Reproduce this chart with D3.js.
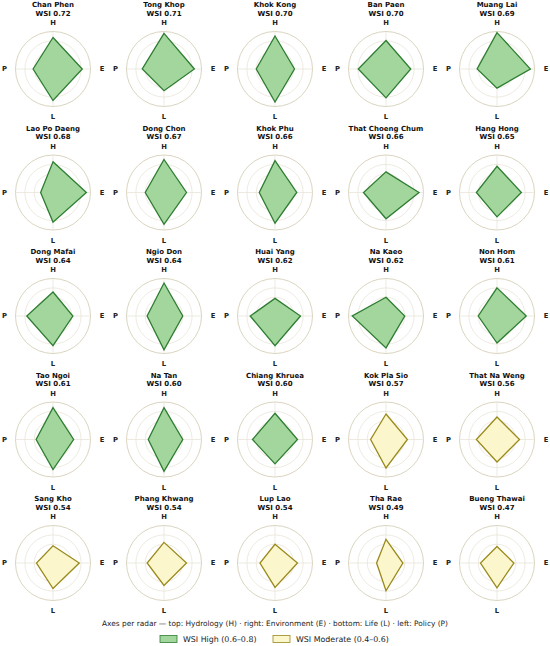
<!DOCTYPE html>
<html lang="en">
<head>
  <meta charset="UTF-8">
  <title>WSI radars</title>
  <script src="https://d3js.org/d3.v7.min.js"></script>
  <style>
    body { margin: 0; background: #fff; font-family: "DejaVu Sans", sans-serif; }
  </style>
</head>
<body>
  <div id="chart"></div>
  <script>
    // Sites in order, with their WSI score
    const sites = ["Chan Phen", "Tong Khop", "Khok Kong", "Ban Paen", "Muang Lai",
      "Lao Po Daeng", "Dong Chon", "Khok Phu", "That Choeng Chum", "Hang Hong",
      "Dong Mafai", "Ngio Don", "Huai Yang", "Na Kaeo", "Non Hom",
      "Tao Ngoi", "Na Tan", "Chiang Khruea", "Kok Pla Sio", "That Na Weng",
      "Sang Kho", "Phang Khwang", "Lup Lao", "Tha Rae", "Bueng Thawai"];
    const wsi = [0.72, 0.71, 0.70, 0.70, 0.69, 0.68, 0.67, 0.66, 0.66, 0.65,
      0.64, 0.64, 0.62, 0.62, 0.61, 0.61, 0.60, 0.60, 0.57, 0.56,
      0.54, 0.54, 0.54, 0.49, 0.47];

    // Dimension scores (0-1)
    const hydrology =   [0.84, 0.95, 0.88, 0.76, 0.97, 0.82, 0.88, 0.85, 0.55, 0.70,
      0.64, 0.88, 0.47, 0.50, 0.75, 0.85, 0.85, 0.70, 0.68, 0.60, 0.46, 0.55, 0.50, 0.63, 0.44];
    const environment = [0.78, 0.81, 0.52, 0.66, 0.89, 0.89, 0.60, 0.58, 0.88, 0.65,
      0.53, 0.50, 0.68, 0.50, 0.78, 0.55, 0.50, 0.60, 0.57, 0.60, 0.70, 0.60, 0.60, 0.45, 0.45];
    const life =        [0.84, 0.58, 0.88, 0.77, 0.51, 0.79, 0.85, 0.82, 0.70, 0.65,
      0.79, 0.90, 0.79, 0.85, 0.72, 0.80, 0.85, 0.65, 0.76, 0.60, 0.68, 0.60, 0.65, 0.74, 0.66];
    const policy =      [0.53, 0.58, 0.50, 0.74, 0.53, 0.33, 0.50, 0.42, 0.60, 0.55,
      0.70, 0.45, 0.66, 0.90, 0.50, 0.45, 0.42, 0.60, 0.41, 0.55, 0.44, 0.45, 0.40, 0.25, 0.44];

    const axisLabels = ["H", "E", "L", "P"];
    const classes = ["WSI High (0.6–0.8)", "WSI Moderate (0.4–0.6)"];

    const width = 550, height = 646;
    const svg = d3.select("#chart").append("svg")
        .attr("width", width)
        .attr("height", height);

    const col = d3.scalePoint().domain(d3.range(5)).range([53, 497]);
    const row = d3.scalePoint().domain(d3.range(5)).range([69, 563]);
    const r = d3.scaleLinear().domain([0, 1]).range([0, 37.5]);
    const angle = d3.scalePoint().domain(axisLabels).range([0, 2 * Math.PI * 3 / 4]);

    const style = {
      high: { fill: "#a3d69c", stroke: "#2e7d32" },
      mod: { fill: "#fbf6cc", stroke: "#9a8a1c" }
    };

    const radar = d3.lineRadial()
        .angle(d => angle(d.k))
        .radius(d => r(d.v))
        .curve(d3.curveLinearClosed);

    // label offsets for H, E, L, P
    const labelPos = { H: [0, -46], E: [49, 0], L: [0, 48], P: [-48.5, 0] };

    sites.forEach((name, i) => {
      const cx = col(i % 5), cy = row(Math.floor(i / 5));
      const g = svg.append("g").attr("transform", `translate(${cx},${cy})`);
      const s = wsi[i] >= 0.6 ? style.high : style.mod;

      // grid rings
      g.selectAll("circle.ring")
        .data([0.25, 0.5, 0.75])
        .join("circle")
          .attr("r", d => r(d))
          .attr("fill", "none")
          .attr("stroke", "#e6e1d4")
          .attr("stroke-width", 0.7);
      g.append("circle")
          .attr("r", r(1))
          .attr("fill", "none")
          .attr("stroke", "#d6cfb8")
          .attr("stroke-width", 0.9);

      // spokes
      g.selectAll("line")
        .data(axisLabels)
        .join("line")
          .attr("x2", d => r(1) * Math.sin(angle(d)))
          .attr("y2", d => -r(1) * Math.cos(angle(d)))
          .attr("stroke", "#e6e1d4")
          .attr("stroke-width", 0.7);

      const vals = [
        { k: "H", v: hydrology[i] }, { k: "E", v: environment[i] },
        { k: "L", v: life[i] }, { k: "P", v: policy[i] }
      ];
      g.append("path")
          .attr("d", radar(vals))
          .attr("fill", s.fill)
          .attr("stroke", s.stroke)
          .attr("stroke-width", 1.3);

      // axis letters
      g.selectAll("text.ax")
        .data(axisLabels)
        .join("text")
          .attr("x", d => labelPos[d][0])
          .attr("y", d => labelPos[d][1])
          .attr("text-anchor", "middle")
          .attr("dominant-baseline", "central")
          .attr("font-size", 6.8)
          .attr("font-weight", "bold")
          .attr("fill", "#222")
          .text(d => d);

      // titles
      g.append("text")
          .attr("y", -64)
          .attr("text-anchor", "middle")
          .attr("dominant-baseline", "central")
          .attr("font-size", 7)
          .attr("font-weight", "bold")
          .attr("fill", "#111")
          .text(name);
      g.append("text")
          .attr("y", -55.5)
          .attr("text-anchor", "middle")
          .attr("dominant-baseline", "central")
          .attr("font-size", 7)
          .attr("font-weight", "bold")
          .attr("fill", "#111")
          .text("WSI " + d3.format(".2f")(wsi[i]));
    });

    // footer note
    svg.append("text")
        .attr("x", 275)
        .attr("y", 623)
        .attr("text-anchor", "middle")
        .attr("dominant-baseline", "central")
        .attr("font-size", 7.4)
        .attr("fill", "#222")
        .text("Axes per radar — top: Hydrology (H) · right: Environment (E) · bottom: Life (L) · left: Policy (P)");

    // legend
    const legendX = [160, 273];
    const legend = svg.selectAll("g.legend")
      .data(classes)
      .join("g")
        .attr("transform", (d, i) => `translate(${legendX[i]},639)`);
    legend.append("rect")
        .attr("x", 0)
        .attr("y", -3.5)
        .attr("width", 17)
        .attr("height", 7)
        .attr("fill", (d, i) => i === 0 ? style.high.fill : style.mod.fill)
        .attr("stroke", (d, i) => i === 0 ? style.high.stroke : style.mod.stroke)
        .attr("stroke-width", 0.8);
    legend.append("text")
        .attr("x", 23)
        .attr("dominant-baseline", "central")
        .attr("font-size", 7.9)
        .attr("fill", "#222")
        .text(d => d);
  </script>
</body>
</html>
